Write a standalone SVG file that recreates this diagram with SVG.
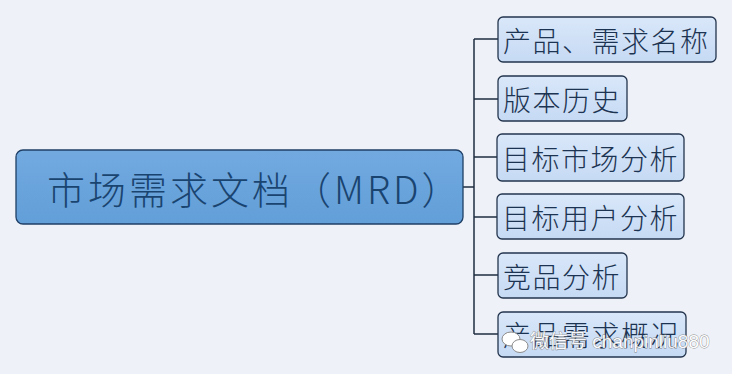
<svg xmlns="http://www.w3.org/2000/svg" width="732" height="374" viewBox="0 0 732 374">
<defs>
<linearGradient id="gMain" x1="0" y1="0" x2="0" y2="1">
<stop offset="0" stop-color="#72aae0"/>
<stop offset="1" stop-color="#629ed8"/>
</linearGradient>
<linearGradient id="gChild" x1="0" y1="0" x2="0" y2="1">
<stop offset="0" stop-color="#d9e7f9"/>
<stop offset="1" stop-color="#c6daf4"/>
</linearGradient>
<style>
.bg{fill:#eef2f8}
.main{fill:url(#gMain);stroke:#1f3f66;stroke-width:1.3}
.child{fill:url(#gChild);stroke:#23344d;stroke-width:1.3}
.mt{font-family:"Noto Sans CJK SC","Noto Sans",sans-serif;font-size:38px;font-weight:300;fill:#1a4470;dominant-baseline:central;letter-spacing:3px}
.ct{font-family:"Noto Sans CJK SC",sans-serif;font-size:28px;font-weight:300;fill:#1c3452;dominant-baseline:central;letter-spacing:1.5px}
.conn{fill:none;stroke:#1e2c40;stroke-width:1.5}
.wm{font-family:"Liberation Sans","Noto Sans CJK SC",sans-serif;font-size:19px;fill:#ffffff;stroke:#7a7a7a;stroke-width:0.8;paint-order:stroke;opacity:0.9}
</style>
</defs>
<rect class="bg" x="0" y="0" width="732" height="374"/>
<g id="connectors">
<path class="conn" d="M463 187 H474"/>
<path class="conn" d="M474 39 V334"/>
<path class="conn" d="M474 39 H498"/>
<path class="conn" d="M474 99 H498"/>
<path class="conn" d="M474 157 H497"/>
<path class="conn" d="M474 217 H497"/>
<path class="conn" d="M474 275 H498"/>
<path class="conn" d="M474 334 H498"/>
</g>
<g id="root">
<rect class="main" x="16" y="150" width="447" height="74" rx="7"/>
<text class="mt" x="47" y="187">市场需求文档（MRD）</text>
</g>
<g id="n1">
<rect class="child" x="498" y="17" width="218" height="45" rx="5"/>
<text class="ct" x="503" y="40">产品、需求名称</text>
</g>
<g id="n2">
<rect class="child" x="498" y="76" width="129" height="45" rx="5"/>
<text class="ct" x="503" y="99">版本历史</text>
</g>
<g id="n3">
<rect class="child" x="497" y="134" width="187" height="47" rx="5"/>
<text class="ct" x="502" y="158">目标市场分析</text>
</g>
<g id="n4">
<rect class="child" x="497" y="194" width="187" height="45" rx="5"/>
<text class="ct" x="502" y="217">目标用户分析</text>
</g>
<g id="n5">
<rect class="child" x="498" y="253" width="129" height="45" rx="5"/>
<text class="ct" x="503" y="276">竞品分析</text>
</g>
<g id="n6">
<rect class="child" x="498" y="312" width="188" height="45" rx="5"/>
<text class="ct" x="503" y="334">产品需求概况</text>
</g>
<g id="watermark">
<ellipse cx="511" cy="339" rx="9" ry="7" fill="#ffffff" stroke="#8a8a8a" stroke-width="1"/>
<ellipse cx="520" cy="346" rx="8" ry="6.5" fill="#ffffff" stroke="#8a8a8a" stroke-width="1"/>
<text class="wm" x="530" y="348">微信号 chanpinliu880</text>
</g>
</svg>
